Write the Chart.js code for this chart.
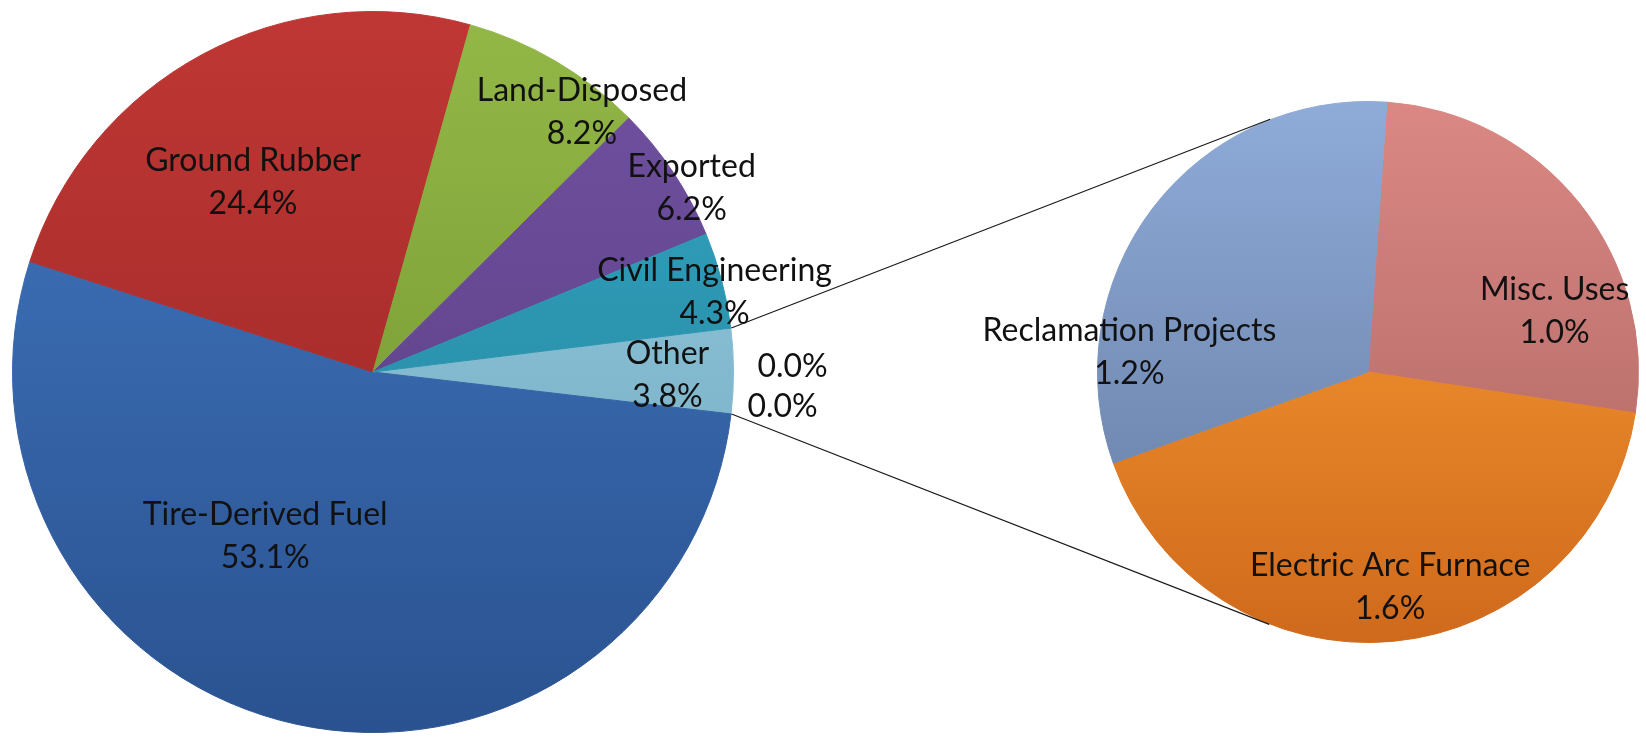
<!DOCTYPE html>
<html>
<head>
<meta charset="utf-8">
<script src="https://cdn.jsdelivr.net/npm/chart.js@4.4.1/dist/chart.umd.min.js"></script>
<style>
html, body { margin: 0; padding: 0; background: #fff; }
#wrap { position: relative; width: 1646px; height: 737px; overflow: hidden; }
#wrap canvas { position: absolute; left: 0; top: 0; }
</style>
</head>
<body>
<div id="wrap">
  <canvas id="mainPie" width="1646" height="737"></canvas>
  <canvas id="subPie" width="1646" height="737"></canvas>
</div>
<script>
// main pie, listed from the split-out "Other" slice onwards
const mainLabels = ['Other', '', '', 'Tire-Derived Fuel', 'Ground Rubber', 'Land-Disposed', 'Exported', 'Civil Engineering'];
const mainValues = [3.8, 0.0, 0.0, 53.1, 24.4, 8.2, 6.2, 4.3];

// what "Other" is made of
const otherLabels = ['Misc. Uses', 'Electric Arc Furnace', 'Reclamation Projects'];
const otherValues = [1.0, 1.6, 1.2];

// styling: top / bottom colour of each slice's gradient
const mainColors = [
    ['#98cfe3', '#6fa4bb'],
    ['#98cfe3', '#6fa4bb'],
    ['#98cfe3', '#6fa4bb'],
    ['#4278c2', '#2a5290'],
    ['#bf3734', '#952525'],
    ['#93b847', '#6e8e2c'],
    ['#7252a2', '#563a7e'],
    ['#33a6c2', '#23809a'],
];
const otherColors = [
    ['#db8884', '#a8625e'],
    ['#ffa436', '#cf691c'],
    ['#8fabd8', '#61799f'],
];
// label placement: angle shift (deg) from slice middle, distance as part of radius
const mainLabelShift = [0.8, -7.4, -1.9, 21.1, -4.1, 8.4, 3.6, 1.6];
const mainLabelRadius = [0.817, 1.164, 1.14, 0.544, 0.622, 0.924, 1.021, 0.973];
const otherLabelShift = [20.7, -0.4, -32.5];
const otherLabelRadius = [0.725, 0.80, 0.885];

function vGrad(pairs) {
    return (c) => {
        const area = c.chart.chartArea;
        const pair = pairs[c.dataIndex];
        if (!area) return pair[0];
        const g = c.chart.ctx.createLinearGradient(0, area.top, 0, area.bottom);
        g.addColorStop(0, pair[0]);
        g.addColorStop(1, pair[1]);
        return g;
    };
}

const sliceLabels = {
    id: 'sliceLabels',
    afterDatasetsDraw(chart, args, opts) {
        const ctx = chart.ctx;
        const meta = chart.getDatasetMeta(0);
        const data = chart.data.datasets[0].data;
        ctx.save();
        ctx.font = '32px Lato';
        ctx.fillStyle = '#111';
        ctx.textAlign = 'center';
        ctx.textBaseline = 'middle';
        meta.data.forEach((arc, i) => {
            const a = (arc.startAngle + arc.endAngle) / 2 + opts.shift[i] * Math.PI / 180;
            const r = arc.outerRadius * opts.radius[i];
            const px = arc.x + r * Math.cos(a);
            const py = arc.y + r * Math.sin(a);
            const pct = data[i].toFixed(1) + '%';
            const name = chart.data.labels[i];
            if (name) {
                ctx.fillText(name, px, py - 21.5);
                ctx.fillText(pct, px, py + 21.5);
            } else {
                ctx.fillText(pct, px, py);
            }
        });
        ctx.restore();
    }
};

const baseOptions = {
    responsive: false,
    animation: false,
    events: [],
    plugins: { legend: { display: false }, tooltip: { enabled: false } },
};

const mainChart = new Chart(document.getElementById('mainPie').getContext('2d'), {
    type: 'pie',
    data: {
        labels: mainLabels,
        datasets: [{
            data: mainValues,
            backgroundColor: vGrad(mainColors),
            borderColor: vGrad(mainColors),
            borderWidth: 1,
            hoverOffset: 0,
        }],
    },
    options: {
        ...baseOptions,
        rotation: 83,
        layout: { padding: { left: 12, right: 912, top: 11, bottom: 4 } },
        plugins: {
            ...baseOptions.plugins,
            sliceLabels: { shift: mainLabelShift, radius: mainLabelRadius },
        },
    },
    plugins: [sliceLabels],
});

// lines from the "Other" slice to the tangents of the second pie
const connectors = {
    id: 'connectors',
    afterDraw(chart) {
        const other = mainChart.getDatasetMeta(0).data[0];
        const sub = chart.getDatasetMeta(0).data[0];
        if (!other || !sub) return;
        const cx = sub.x, cy = sub.y, R = sub.outerRadius + 0.5;
        const ends = [other.startAngle, other.endAngle].map(a => ({
            x: other.x + (other.outerRadius + 0.5) * Math.cos(a),
            y: other.y + (other.outerRadius + 0.5) * Math.sin(a),
        }));
        const tangent = (p, upper) => {
            const d = Math.hypot(p.x - cx, p.y - cy);
            const phi = Math.atan2(p.y - cy, p.x - cx);
            const beta = Math.acos(R / d);
            const t1 = { x: cx + R * Math.cos(phi + beta), y: cy + R * Math.sin(phi + beta) };
            const t2 = { x: cx + R * Math.cos(phi - beta), y: cy + R * Math.sin(phi - beta) };
            return upper ? (t1.y < t2.y ? t1 : t2) : (t1.y > t2.y ? t1 : t2);
        };
        const ctx = chart.ctx;
        ctx.save();
        ctx.strokeStyle = '#1a1a1a';
        ctx.lineWidth = 1.2;
        ends.forEach((p, i) => {
            const t = tangent(p, i === 0);
            ctx.beginPath();
            ctx.moveTo(p.x, p.y);
            ctx.lineTo(t.x, t.y);
            ctx.stroke();
        });
        ctx.restore();
    }
};

const subChart = new Chart(document.getElementById('subPie').getContext('2d'), {
    type: 'pie',
    data: {
        labels: otherLabels,
        datasets: [{
            data: otherValues,
            backgroundColor: vGrad(otherColors),
            borderColor: vGrad(otherColors),
            borderWidth: 1,
            hoverOffset: 0,
        }],
    },
    options: {
        ...baseOptions,
        rotation: 4,
        layout: { padding: { left: 1097, right: 7, top: 101, bottom: 94 } },
        plugins: {
            ...baseOptions.plugins,
            sliceLabels: { shift: otherLabelShift, radius: otherLabelRadius },
        },
    },
    plugins: [sliceLabels, connectors],
});
</script>
</body>
</html>
